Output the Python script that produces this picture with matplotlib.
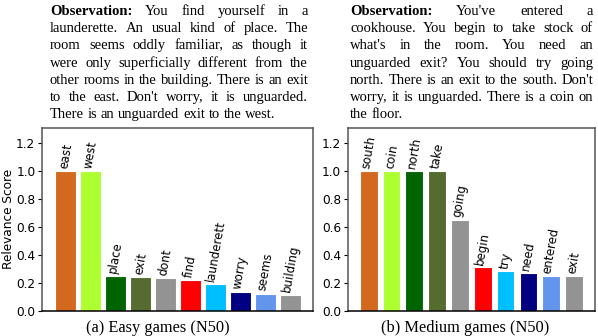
import numpy as np
import matplotlib
matplotlib.use("Agg")
import matplotlib.pyplot as plt

# data
easy_words = ['east', 'west', 'place', 'exit', 'dont', 'find', 'launderett', 'worry', 'seems', 'building']
easy_scores = [1.0, 1.0, 0.249, 0.242, 0.235, 0.221, 0.191, 0.136, 0.122, 0.112]
medium_words = ['south', 'coin', 'north', 'take', 'going', 'begin', 'try', 'need', 'entered', 'exit']
medium_scores = [1.0, 1.0, 1.0, 1.0, 0.651, 0.31, 0.281, 0.267, 0.245, 0.245]
bar_colors = ['chocolate', 'greenyellow', 'darkgreen', 'darkolivegreen', '#939393',
              'red', 'deepskyblue', 'navy', 'cornflowerblue', '#939393']
yticks = [0.0, 0.2, 0.4, 0.6, 0.8, 1.0, 1.2]

easy_text = [
    "Observation: You find yourself in a",
    "launderette. An usual kind of place. The",
    "room seems oddly familiar, as though it",
    "were only superficially different from the",
    "other rooms in the building. There is an exit",
    "to the east. Don't worry, it is unguarded.",
    "There is an unguarded exit to the west.",
]
medium_text = [
    "Observation: You've entered a",
    "cookhouse. You begin to take stock of",
    "what's in the room. You need an",
    "unguarded exit? You should try going",
    "north. There is an exit to the south. Don't",
    "worry, it is unguarded. There is a coin on",
    "the floor.",
]

W, H = 598, 336
fig = plt.figure(figsize=(W / 100, H / 100), dpi=100)
renderer = fig.canvas.get_renderer()


def px(x, y):
    return x / W, 1 - y / H


def paragraph(lines, x0, x1, y0, step, size=10.5):
    """ justified serif paragraph, placed word by word """
    for i, line in enumerate(lines):
        words = line.split(' ')
        y = y0 + i * step
        arts = []
        for j, w in enumerate(words):
            bold = (i == 0 and j == 0)
            t = fig.text(0, 0, w, fontsize=size, family='Liberation Serif',
                         fontweight='bold' if bold else 'normal', va='baseline', ha='left')
            arts.append(t)
        widths = [t.get_window_extent(renderer).width for t in arts]
        if i == len(lines) - 1:
            sp = 0.25 * size * 100 / 72
        else:
            sp = (x1 - x0 - sum(widths)) / (len(words) - 1)
        x = x0
        for t, w in zip(arts, widths):
            t.set_position(px(x, y))
            x += w + sp


paragraph(easy_text, 50, 308, 15, 17.23)
paragraph(medium_text, 350, 593, 15, 17.23)


def panel(rect, words, scores, xlim, width, ylabel=None):
    ax = fig.add_axes(rect)
    x = np.arange(len(words))
    ax.bar(x, scores, width=width, color=bar_colors, edgecolor='white', linewidth=0.8)
    for xi, s, w in zip(x, scores, words):
        ax.text(xi, s + 0.012, w, rotation=80, ha='center', va='bottom', fontsize=8.5)
    ax.set_xlim(*xlim)
    ax.set_ylim(0, 1.31)
    ax.set_xticks([])
    ax.set_yticks(yticks)
    ax.set_yticklabels([f'{v:.1f}' for v in yticks], fontsize=8.7)
    ax.tick_params(axis='y', length=3, width=0.8, pad=2)
    for sp in ax.spines.values():
        sp.set_color('#555555')
        sp.set_linewidth(1.1)
    ax.spines['bottom'].set_color('black')
    if ylabel:
        ax.set_ylabel(ylabel, fontsize=8.7, labelpad=0.5)
    return ax


ax1 = panel([42.3 / W, 25.5 / H, (312.7 - 42.3) / W, (310.5 - 128) / H],
            easy_words, easy_scores, (-0.94, 9.9), 0.84, 'Relevance Score')
ax2 = panel([348 / W, 25.5 / H, (595 - 348) / W, (310.5 - 128) / H],
            medium_words, medium_scores, (-0.91, 9.92), 0.78)

fig.text(*px(158, 331.5), '(a) Easy games (N50)', ha='center', va='baseline',
         fontsize=11.8, family='Liberation Serif')
fig.text(*px(465, 331.5), '(b) Medium games (N50)', ha='center', va='baseline',
         fontsize=11.8, family='Liberation Serif')

fig.savefig('out.png', dpi=100)
